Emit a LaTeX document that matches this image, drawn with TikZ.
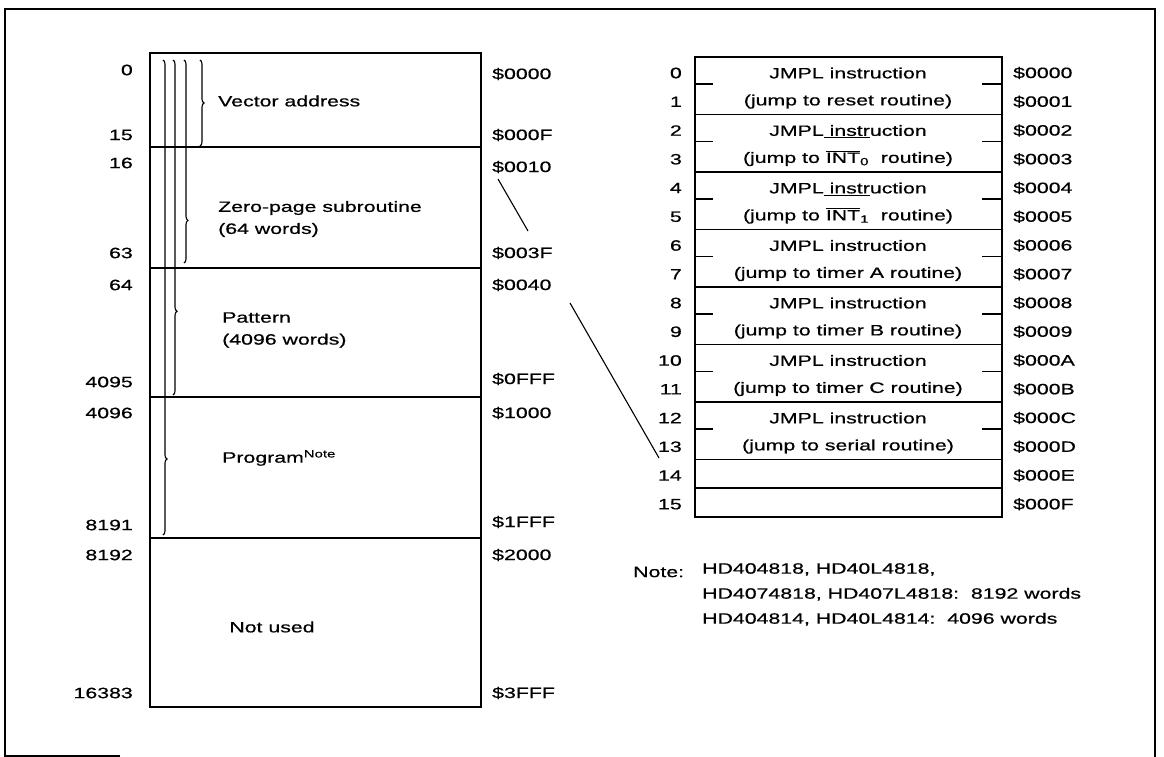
\documentclass[tikz,border=0pt]{standalone}
\usepackage{fontspec}
\setmainfont{Liberation Sans}[FakeStretch=1.42, FakeBold=0.6]
\usetikzlibrary{decorations.pathreplacing}

\begin{document}
\begin{tikzpicture}[x=1pt, y=-1pt,
    font=\fontsize{15}{22}\selectfont,
    box/.style={line width=1.6pt},
    frame/.style={line width=1.3pt},
    bracket/.style={line width=1.1pt, decorate,
      decoration={brace, amplitude=4pt, aspect=#1}},
    bracket/.default=0.5,
    num/.style={anchor=east, inner sep=0pt},
    addr/.style={anchor=west, inner sep=0pt},
    txt/.style={anchor=west, align=left, inner sep=0pt},
    jmp/.style={align=center, inner sep=0pt, font=\fontsize{15}{27}\selectfont}]
    \useasboundingbox (0,0) rectangle (1164,757);

    % outer frame
    \draw[frame] (120,756) -- (5,756) -- (5,9) -- (1155,9) -- (1155,757);

    % memory map
    \draw[box] (150,53) rectangle (481,707);
    \foreach \y in {147,268,397,538}
      \draw[box] (150,\y) -- (481,\y);

    \draw[bracket] (200,60) -- (200,146);
    \draw[bracket=0.79] (184,60) -- (184,263);
    \draw[bracket=0.75] (173,60) -- (173,395);
    \draw[bracket=0.84] (163,60) -- (163,535);

    \node[txt] (vec) at (218,101) {Vector address};
    \node[txt] (zero) at (218,219) {Zero-page subroutine\\(64 words)};
    \node[txt] (pat) at (222,330) {Pattern\\(4096 words)};
    \node[txt] (prog) at (222,458) {Program\textsuperscript{Note}};
    \node (unused) at (272,627) {Not used};

    \foreach \n/\y in {0/70, 15/135, 16/163, 63/253, 64/285, 4095/382,
                       4096/413, 8191/525, 8192/555, 16383/693}
      \node[num] (dec\n) at (133,\y) {\n};
    \foreach \h/\y in {0000/74, 000F/135, 0010/167, 003F/253, 0040/285,
                       0FFF/379, 1000/413, 1FFF/522, 2000/555, 3FFF/693}
      \node[addr] (map\h) at (492,\y) {\$\h};

    % pointer lines
    \coordinate (p1) at (498,179);
    \coordinate (q1) at (528,231);
    \coordinate (p2) at (570,303);
    \coordinate (q2) at (659,458);
    \draw[line width=1.1pt] (p1) -- (q1);
    \draw[line width=1.1pt] (p2) -- (q2);

    % vector table
    \draw[box] (695,57) rectangle (1002,517);
    \foreach \y in {114.5,172,229.5,287,344.5,402,459.5,488.25}
      \draw[box] (695,\y) -- (1002,\y);
    \foreach \k in {0,...,6} {
      \draw[box] (695,84+57.5*\k) -- (713,84+57.5*\k);
      \draw[box] (982,84+57.5*\k) -- (1002,84+57.5*\k);
    }
    \foreach \i/\h in {0/0,1/1,2/2,3/3,4/4,5/5,6/6,7/7,8/8,9/9,
                       10/A,11/B,12/C,13/D,14/E,15/F} {
      \node[num] (idx\i) at (682,73+28.75*\i) {\i};
      \node[addr] (vec\h) at (1013,73+28.75*\i) {\$000\h};
    }

    \node[jmp] (jreset) at (848,88) {JMPL instruction\\(jump to reset routine)};
    \node[jmp] (jint0) at (848,145.5) {JMPL\underline{ instr}uction\\(jump to $\overline{\mbox{INT}}$\textsubscript{0}\ \ routine)};
    \node[jmp] (jint1) at (848,203) {JMPL\underline{ instr}uction\\(jump to $\overline{\mbox{INT}}$\textsubscript{1}\ \ routine)};
    \node[jmp] (jtma) at (848,260.5) {JMPL instruction\\(jump to timer A routine)};
    \node[jmp] (jtmb) at (848,318) {JMPL instruction\\(jump to timer B routine)};
    \node[jmp] (jtmc) at (848,375.5) {JMPL instruction\\(jump to timer C routine)};
    \node[jmp] (jser) at (848,433) {JMPL instruction\\(jump to serial routine)};

    % note
    \node[addr] (note) at (633,572) {Note:};
    \node[txt, anchor=north west, font=\fontsize{15}{25}\selectfont] (parts) at (702,563)
      {HD404818, HD40L4818,\\HD4074818, HD407L4818:\ \ 8192 words\\HD404814, HD40L4814:\ \ 4096 words};
\end{tikzpicture}
\end{document}
